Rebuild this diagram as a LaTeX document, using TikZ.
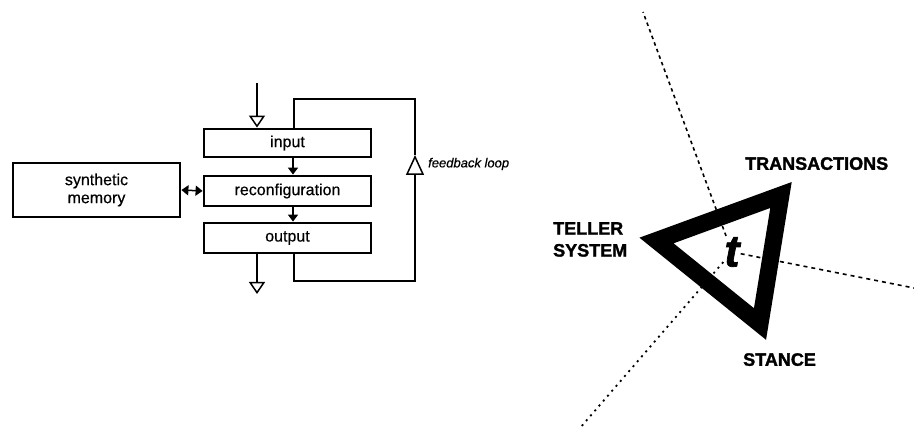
\documentclass[tikz,border=0pt]{standalone}
\usepackage{fontspec}
\setmainfont{Liberation Sans}
\newfontfamily\heavyfont[FakeBold=1.6]{Liberation Sans Bold}
\newfontfamily\heavyitfont[FakeBold=1.6]{Liberation Sans Bold Italic}
\newfontfamily\midfont[FakeBold=0.5]{Liberation Sans}
\newfontfamily\miditfont[FakeBold=0.6]{Liberation Sans Italic}
\usetikzlibrary{arrows.meta}
\begin{document}
\begin{tikzpicture}[x=1pt,y=-1pt,
  box/.style={draw, line width=2.8pt, minimum width=167pt, inner sep=0pt,
    font=\midfont\fontsize{16}{18}\selectfont},
  conn/.style={line width=1.5pt},
  opentip/.style={-{Triangle[open,length=12pt,width=16pt]}},
  filltip/.style={-{Triangle[length=7pt,width=10pt]}},
  biglabel/.style={inner sep=0pt, align=left, font=\heavyfont\fontsize{18}{22}\selectfont},
  dashA/.style={line width=1.6pt, dash pattern=on 3.5pt off 3.5pt},
  dashB/.style={line width=1.6pt, dash pattern=on 4pt off 4pt},
  dotC/.style={line width=1.8pt, dash pattern=on 2pt off 4.5pt}
]
\useasboundingbox (0,0) rectangle (914,430);

% ---------- left diagram ----------
\node[box, minimum height=28pt] (in) at (287.5,143) {input};
\node[box, minimum height=30pt] (rc) at (287.5,191) {reconfiguration};
\node[box, minimum height=30pt] (out) at (287.5,238) {output};
\node[box, minimum width=167pt, minimum height=54pt, align=center] (mem) at (96.5,190) {synthetic\\memory};

\coordinate (inTop) at (257,83);
\coordinate (outEnd) at (257,294);
\coordinate (fbBR) at (415,281);
\coordinate (fbTip) at (415,155);
\coordinate (fbTR) at (415,99);
\coordinate (fbX) at (294,0);
\coordinate (midX) at (293,0);

\draw[conn, opentip] (inTop) -- (inTop |- in.north);
\draw[conn, opentip] (out.south -| inTop) -- (outEnd);
\draw[conn, filltip] (in.south -| midX) -- (rc.north -| midX);
\draw[conn, filltip] (rc.south -| midX) -- (out.north -| midX);
\draw[conn, {Triangle[length=7pt,width=10pt]}-{Triangle[length=7pt,width=10pt]}] (mem.east) -- (rc.west);

\draw[conn, -{Triangle[open,length=20pt,width=18pt]}] (out.south -| fbX) |- (fbBR) -- (fbTip);
\draw[conn] (fbTip) -- (fbTR) -| (in.north -| fbX);
\node[anchor=west, inner sep=0pt, font=\miditfont\fontsize{13}{15}\selectfont] (fbl) at (428,164) {feedback loop};

% ---------- right diagram ----------
\node[inner sep=1pt, font=\heavyitfont\fontsize{45}{45}\selectfont] (t) at (732,252) {t};
\coordinate (dTop) at (643,12);
\coordinate (dRight) at (914,288);
\coordinate (dLeft) at (580,428);
\draw[dashA] (t) -- (dTop);
\draw[dashB] (t) -- (dRight);
\draw[dotC] (t) -- (dLeft);

\coordinate (vL) at (656.5,240.5);
\coordinate (vT) at (781,195);
\coordinate (vB) at (760,324);
\draw[line width=17pt, line join=miter] (vL) -- (vT) -- (vB) -- cycle;

\node[biglabel, anchor=north west] (teller) at (553,222) {TELLER\\SYSTEM};
\node[biglabel, anchor=north west] (trans) at (745,157) {TRANSACTIONS};
\node[biglabel, anchor=north west] (stance) at (743,353) {STANCE};
\end{tikzpicture}
\end{document}
